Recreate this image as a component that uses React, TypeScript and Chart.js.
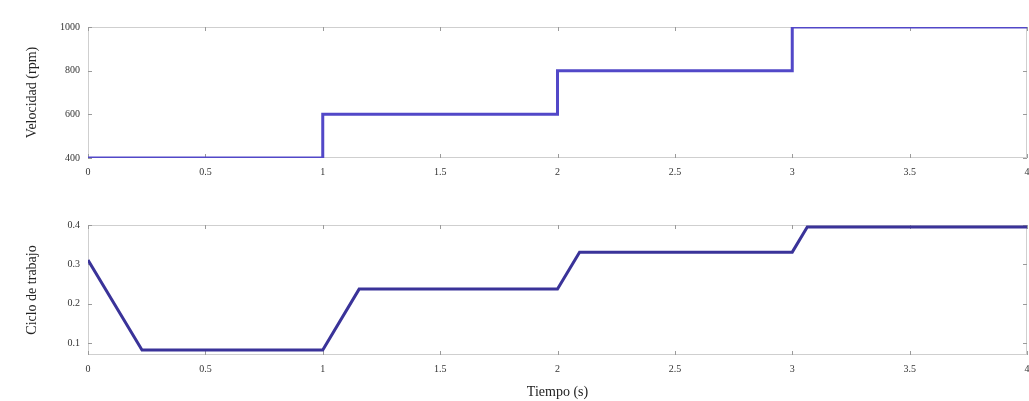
import React, { useEffect, useRef } from "react";
import { Chart, registerables } from "chart.js";

Chart.register(...registerables);

const xTicks = [0, 0.5, 1, 1.5, 2, 2.5, 3, 3.5, 4];

const topTime = [0, 1, 1, 2, 2, 3, 3, 4];
const topValues = [400, 400, 600, 600, 800, 800, 1000, 1000];
const topYTicks = [400, 600, 800, 1000];
const topYLabel = "Velocidad (rpm)";

const bottomTime = [0, 0.23, 1.0, 1.155, 2.0, 2.094, 3.0, 3.064, 4];
const bottomValues = [0.311, 0.082, 0.082, 0.237, 0.237, 0.331, 0.331, 0.395, 0.395];
const bottomYTicks = [0.1, 0.2, 0.3, 0.4];
const bottomYLabel = "Ciclo de trabajo";
const xLabel = "Tiempo (s)";

const FONT = "'Liberation Serif', 'DejaVu Serif', serif";

const boxPlugin = {
  id: "boxPlugin",
  beforeDatasetsDraw(chart: any) {
    const { ctx, chartArea } = chart;
    const { left, right, top, bottom } = chartArea;
    ctx.save();
    ctx.strokeStyle = "#cfcfcf";
    ctx.lineWidth = 1;
    ctx.strokeRect(left + 0.5, top + 0.5, right - left - 1, bottom - top - 1);
    ctx.strokeStyle = "#9a9a9a";
    const xs = chart.scales.x;
    const ys = chart.scales.y;
    ctx.beginPath();
    xs.ticks.forEach((t: any) => {
      const px = Math.round(xs.getPixelForValue(t.value)) + 0.5;
      ctx.moveTo(px, bottom);
      ctx.lineTo(px, bottom - 4);
      ctx.moveTo(px, top);
      ctx.lineTo(px, top + 4);
    });
    ys.ticks.forEach((t: any) => {
      const py = Math.round(ys.getPixelForValue(t.value)) + 0.5;
      ctx.moveTo(left, py);
      ctx.lineTo(left + 4, py);
      ctx.moveTo(right, py);
      ctx.lineTo(right - 4, py);
    });
    ctx.stroke();
    ctx.restore();
  },
};

function makeConfig(
  time: number[],
  values: number[],
  yTicks: number[],
  yMin: number,
  yMax: number,
  yLabel: string,
  color: string,
  padTop: number,
  xHeight: number,
  showXTitle: boolean
): any {
  return {
    type: "line",
    data: {
      datasets: [
        {
          data: time.map((t, i) => ({ x: t, y: values[i] })),
          borderColor: color,
          borderWidth: 3,
          pointRadius: 0,
          tension: 0,
          fill: false,
        },
      ],
    },
    options: {
      responsive: false,
      animation: false,
      layout: { padding: { top: padTop, right: 2, left: 0, bottom: 0 } },
      plugins: { legend: { display: false }, tooltip: { enabled: false } },
      scales: {
        x: {
          type: "linear",
          min: 0,
          max: 4,
          afterBuildTicks: (s: any) => {
            s.ticks = xTicks.map((v) => ({ value: v }));
          },
          afterFit: (s: any) => {
            s.height = xHeight;
            s.paddingLeft = 0;
            s.paddingRight = 0;
          },
          grid: { display: false, drawTicks: false },
          border: { display: false },
          ticks: {
            padding: 8,
            maxRotation: 0,
            autoSkip: false,
            color: "#333",
            font: { family: FONT, size: 10 },
            callback: (v: number) => String(v),
          },
          title: {
            display: showXTitle,
            text: xLabel,
            color: "#222",
            font: { family: FONT, size: 14 },
            padding: { top: 2, bottom: 0 },
          },
        },
        y: {
          type: "linear",
          min: yMin,
          max: yMax,
          afterBuildTicks: (s: any) => {
            s.ticks = yTicks.map((v) => ({ value: v }));
          },
          afterFit: (s: any) => {
            s.width = 88;
            s.paddingTop = 0;
            s.paddingBottom = 0;
          },
          grid: { display: false, drawTicks: false },
          border: { display: false },
          ticks: {
            padding: 8,
            color: "#333",
            font: { family: FONT, size: 10 },
            callback: (v: number) => String(v),
          },
          title: {
            display: true,
            text: yLabel,
            color: "#222",
            font: { family: FONT, size: 14 },
            padding: { top: 24, bottom: 0 },
          },
        },
      },
    },
    plugins: [boxPlugin],
  };
}

export default function App() {
  const topRef = useRef<HTMLCanvasElement | null>(null);
  const botRef = useRef<HTMLCanvasElement | null>(null);

  useEffect(() => {
    const c1 = new Chart(
      topRef.current as HTMLCanvasElement,
      makeConfig(topTime, topValues, topYTicks, 400, 1000, topYLabel, "#5248c8", 27, 42, false)
    );
    const c2 = new Chart(
      botRef.current as HTMLCanvasElement,
      makeConfig(bottomTime, bottomValues, bottomYTicks, 0.0695, 0.4, bottomYLabel, "#3a3399", 25, 46, true)
    );
    return () => {
      c1.destroy();
      c2.destroy();
    };
  }, []);

  return (
    <div
      style={{
        position: "fixed",
        left: 0,
        top: 0,
        width: 1029,
        height: 401,
        background: "#ffffff",
      }}
    >
      <canvas
        ref={topRef}
        width={1029}
        height={200}
        style={{ position: "absolute", left: 0, top: 0, width: 1029, height: 200 }}
      />
      <canvas
        ref={botRef}
        width={1029}
        height={201}
        style={{ position: "absolute", left: 0, top: 200, width: 1029, height: 201 }}
      />
    </div>
  );
}
